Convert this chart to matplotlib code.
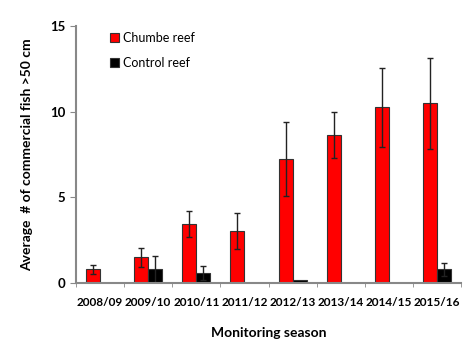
import numpy as np
import matplotlib.pyplot as plt

seasons = ["2008/09", "2009/10", "2010/11", "2011/12", "2012/13", "2013/14", "2014/15", "2015/16"]
chumbe = [0.8, 1.5, 3.45, 3.05, 7.25, 8.65, 10.25, 10.5]
chumbe_err = [0.25, 0.55, 0.75, 1.05, 2.15, 1.35, 2.3, 2.65]
control = [0.0, 0.8, 0.6, 0.0, 0.2, 0.0, 0.0, 0.8]
control_err = [0.0, 0.8, 0.4, 0.0, 0.0, 0.0, 0.0, 0.37]

plt.rcParams["font.family"] = ["Lato", "DejaVu Sans"]

fig = plt.figure(figsize=(4.69, 3.5), dpi=100)
ax = fig.add_axes([0.162, 0.191, 0.821, 0.735])

x = np.arange(len(seasons))
w = 0.29
ekw = dict(ecolor="#222222", elinewidth=1, capsize=2.5, capthick=1)
c_err = [c if c > 0 else np.nan for c in control_err]
ax.bar(x - w / 2, chumbe, w, yerr=chumbe_err, color="#ff0000", edgecolor="#333333",
       linewidth=0.8, error_kw=ekw, label="Chumbe reef")
ax.bar(x + w / 2, control, w, yerr=c_err, color="#000000", edgecolor="#333333",
       linewidth=0.8, error_kw=ekw, label="Control reef")

ax.set_xlim(-0.5, len(seasons) - 0.5)
ax.set_ylim(0, 15)
ax.set_yticks([0, 5, 10, 15])
ax.set_xticks(x)
ax.set_xticklabels(seasons, fontweight="bold", fontsize=8.5)
ax.set_xticks(np.arange(-0.5, len(seasons)), minor=True)
ax.tick_params(axis="x", which="major", length=0, pad=10)
ax.tick_params(axis="x", which="minor", length=3, color="#888888", direction="out")
ax.tick_params(axis="y", length=4, color="#888888", labelsize=9.5)
for lab in ax.get_yticklabels():
    lab.set_fontweight("bold")

for s in ["top", "right"]:
    ax.spines[s].set_visible(False)
for s in ["left", "bottom"]:
    ax.spines[s].set_color("#888888")
    ax.spines[s].set_linewidth(1.5)

ax.set_xlabel("Monitoring season", fontweight="bold", fontsize=10, labelpad=14)
ax.set_ylabel("Average  # of commercial fish >50 cm", fontweight="bold", fontsize=10, labelpad=12)

ax.legend(loc="upper left", bbox_to_anchor=(0.06, 1.02), frameon=False, fontsize=9,
          handlelength=0.7, handleheight=0.7, labelspacing=1.0, handletextpad=0.3)

fig.savefig("out.png", dpi=100)
